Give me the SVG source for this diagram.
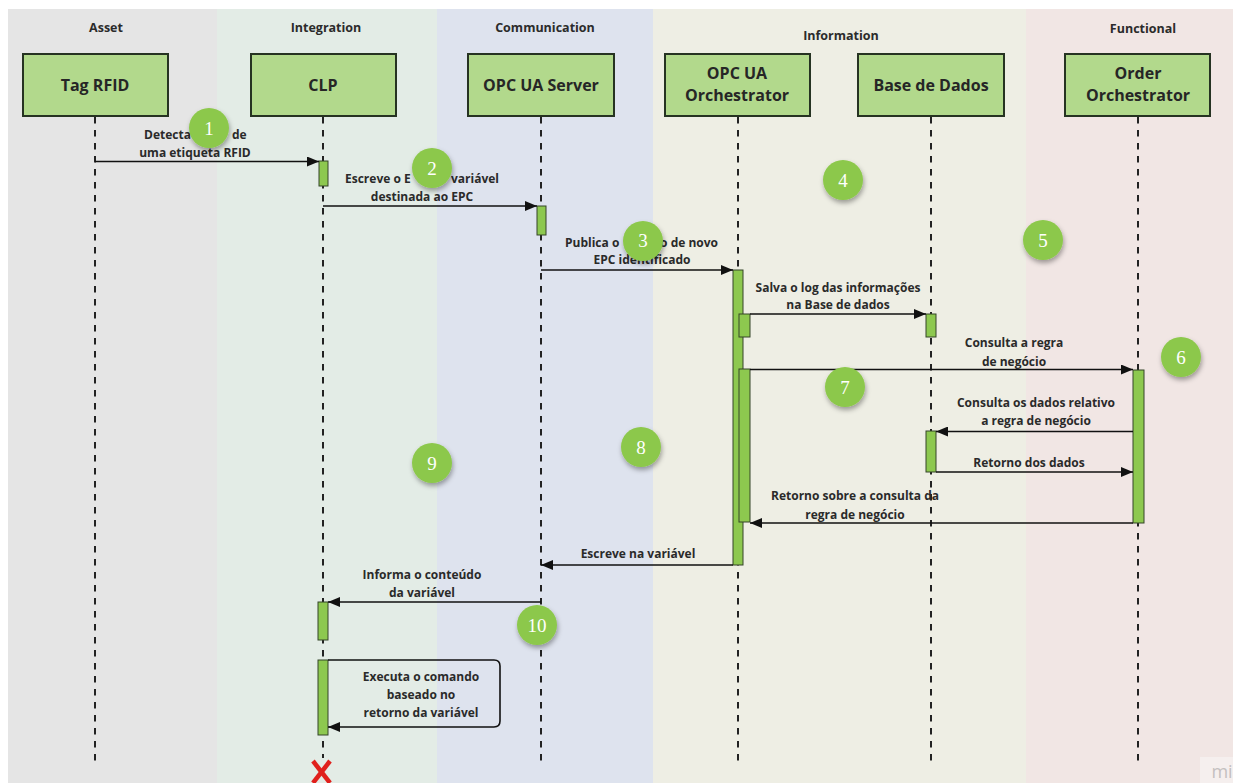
<svg xmlns="http://www.w3.org/2000/svg" width="1233" height="783" viewBox="0 0 1233 783">
  <style>
    .lane-title { font-family: "Open Sans", "Liberation Sans", sans-serif; font-weight: 700; font-size: 12.5px; fill: #2b2b2b; text-anchor: middle; }
    .actor rect { fill: #b2d98c; stroke: #263322; stroke-width: 2; }
    .actor text { font-family: "Open Sans", "Liberation Sans", sans-serif; font-weight: 700; font-size: 16px; fill: #262626; text-anchor: middle; }
    .lifeline { stroke: #222; stroke-width: 2; stroke-dasharray: 6.5 6.5; fill: none; }
    .act { fill: #8dc84f; stroke: #344428; stroke-width: 1; }
    .msg { stroke: #111; stroke-width: 1.6; fill: none; marker-end: url(#arrow); }
    .label { font-family: "Open Sans", "Liberation Sans", sans-serif; font-weight: 700; font-size: 12px; fill: #2a2a2a; text-anchor: middle; }
    .label.s { text-anchor: start; }
    .label.e { text-anchor: end; }
    .step circle { fill: #8cc84b; filter: url(#shadow); }
    .step text { font-family: "Liberation Serif", "DejaVu Serif", serif; font-size: 19px; fill: #ffffff; text-anchor: middle; }
  </style>
  <defs>
    <marker id="arrow" viewBox="0 0 12 10" refX="12" refY="5" markerWidth="12" markerHeight="10" markerUnits="userSpaceOnUse" orient="auto">
      <path d="M0,0 L12,5 L0,10 z" fill="#111"/>
    </marker>
    <filter id="shadow" x="-50%" y="-50%" width="200%" height="200%">
      <feDropShadow dx="1" dy="3" stdDeviation="2.5" flood-color="#000" flood-opacity="0.35"/>
    </filter>
  </defs>

  <!-- swimlanes -->
  <rect x="0" y="0" width="1233" height="783" fill="#ffffff"/>
  <g id="lanes">
    <rect x="8" y="9" width="209" height="774" fill="#e5e5e5"/>
    <rect x="217" y="9" width="220" height="774" fill="#e3ece6"/>
    <rect x="437" y="9" width="216" height="774" fill="#dee3ee"/>
    <rect x="653" y="9" width="373" height="774" fill="#eeeee4"/>
    <rect x="1026" y="9" width="207" height="774" fill="#f1e6e4"/>
    <text class="lane-title" x="106" y="32">Asset</text>
    <text class="lane-title" x="326" y="32">Integration</text>
    <text class="lane-title" x="545" y="32">Communication</text>
    <text class="lane-title" x="841" y="40">Information</text>
    <text class="lane-title" x="1143" y="33">Functional</text>
  </g>

  <!-- participants -->
  <g id="tag-rfid" class="actor">
    <rect x="23" y="54" width="145" height="62"/>
    <text x="95" y="91">Tag RFID</text>
    <line class="lifeline" x1="95" y1="117" x2="95" y2="765"/>
  </g>
  <g id="clp" class="actor">
    <rect x="251" y="54" width="145" height="62"/>
    <text x="323" y="91">CLP</text>
    <line class="lifeline" x1="323" y1="117" x2="323" y2="758"/>
  </g>
  <g id="opc-ua-server" class="actor">
    <rect x="468" y="54" width="146" height="62"/>
    <text x="541" y="91">OPC UA Server</text>
    <line class="lifeline" x1="541" y1="117" x2="541" y2="765"/>
  </g>
  <g id="opc-ua-orchestrator" class="actor">
    <rect x="665" y="54" width="145" height="62"/>
    <text x="737" y="79">OPC UA</text>
    <text x="737" y="101">Orchestrator</text>
    <line class="lifeline" x1="738" y1="117" x2="738" y2="765"/>
  </g>
  <g id="base-de-dados" class="actor">
    <rect x="858" y="54" width="146" height="62"/>
    <text x="931" y="91">Base de Dados</text>
    <line class="lifeline" x1="931" y1="117" x2="931" y2="765"/>
  </g>
  <g id="order-orchestrator" class="actor">
    <rect x="1065" y="54" width="145" height="62"/>
    <text x="1138" y="79">Order</text>
    <text x="1138" y="101">Orchestrator</text>
    <line class="lifeline" x1="1138" y1="117" x2="1138" y2="765"/>
  </g>

  <!-- activation bars -->
  <g id="activations">
    <rect class="act" x="319" y="161" width="9" height="25"/>
    <rect class="act" x="537" y="206" width="9" height="29"/>
    <rect class="act" x="733" y="270" width="10" height="295"/>
    <rect class="act" x="739" y="314" width="11" height="23"/>
    <rect class="act" x="926" y="314" width="10" height="23"/>
    <rect class="act" x="739" y="369" width="11" height="153"/>
    <rect class="act" x="1133" y="370" width="11" height="153"/>
    <rect class="act" x="926" y="431" width="10" height="41"/>
    <rect class="act" x="318" y="602" width="10" height="38"/>
    <rect class="act" x="318" y="660" width="10" height="75"/>
  </g>

  <!-- messages -->
  <g id="connectors">
    <line class="msg" x1="95" y1="161.5" x2="319" y2="161.5"/>
    <line class="msg" x1="323" y1="206" x2="537" y2="206"/>
    <line class="msg" x1="541" y1="270" x2="733" y2="270"/>
    <line class="msg" x1="750" y1="314" x2="926" y2="314"/>
    <line class="msg" x1="750" y1="369.5" x2="1133" y2="369.5"/>
    <line class="msg" x1="1133" y1="431.5" x2="936" y2="431.5"/>
    <line class="msg" x1="936" y1="472" x2="1133" y2="472"/>
    <line class="msg" x1="1133" y1="523" x2="750" y2="523"/>
    <line class="msg" x1="733" y1="565" x2="541" y2="565"/>
    <line class="msg" x1="541" y1="602" x2="328" y2="602"/>
    <path class="msg" d="M328,660 H494 Q500,660 500,666 V721 Q500,727 494,727 H328"/>
    <!-- destruction mark -->
    <g stroke="#e0201c" stroke-width="4.5" stroke-linecap="butt">
      <line x1="313" y1="761" x2="330" y2="783"/>
      <line x1="330" y1="761" x2="313" y2="783"/>
    </g>
  </g>

  <!-- message labels (split where a step marker sits over the line) -->
  <g id="labels">
    <text class="label s" x="144" y="138.5">Detecta</text>
    <text class="label s" x="232" y="138.5">de</text>
    <text class="label" x="195" y="157">uma etiqueta RFID</text>
    <text class="label s" x="345" y="183">Escreve o E</text>
    <text class="label s" x="451" y="183">variável</text>
    <text class="label" x="422" y="201">destinada ao EPC</text>
    <text class="label s" x="565" y="246.5">Publica o</text>
    <text class="label e" x="718" y="246.5">o de novo</text>
    <text class="label" x="642" y="264">EPC identificado</text>
    <text class="label" x="838" y="292">Salva o log das informações</text>
    <text class="label" x="838" y="309">na Base de dados</text>
    <text class="label" x="1014" y="347">Consulta a regra</text>
    <text class="label" x="1014" y="366">de negócio</text>
    <text class="label" x="1036" y="407">Consulta os dados relativo</text>
    <text class="label" x="1036" y="425">a regra de negócio</text>
    <text class="label" x="1029" y="467">Retorno dos dados</text>
    <text class="label" x="855" y="500">Retorno sobre a consulta da</text>
    <text class="label" x="855" y="518.5">regra de negócio</text>
    <text class="label" x="638" y="558">Escreve na variável</text>
    <text class="label" x="422" y="579">Informa o conteúdo</text>
    <text class="label" x="422" y="597">da variável</text>
    <text class="label" x="421" y="681">Executa o comando</text>
    <text class="label" x="421" y="699">baseado no</text>
    <text class="label" x="421" y="717">retorno da variável</text>
  </g>

  <!-- numbered step markers -->
  <g id="step-1" class="step"><circle cx="209" cy="128" r="20"/><text x="209" y="134.5">1</text></g>
  <g id="step-2" class="step"><circle cx="432" cy="168" r="20"/><text x="432" y="174.5">2</text></g>
  <g id="step-3" class="step"><circle cx="643" cy="241" r="20"/><text x="643" y="247">3</text></g>
  <g id="step-4" class="step"><circle cx="843" cy="180" r="20"/><text x="843" y="186.5">4</text></g>
  <g id="step-5" class="step"><circle cx="1043" cy="240" r="20"/><text x="1043" y="246.5">5</text></g>
  <g id="step-6" class="step"><circle cx="1181" cy="357" r="20"/><text x="1181" y="363.5">6</text></g>
  <g id="step-7" class="step"><circle cx="845" cy="387" r="20"/><text x="845" y="393.5">7</text></g>
  <g id="step-8" class="step"><circle cx="641" cy="447" r="20"/><text x="641" y="453.5">8</text></g>
  <g id="step-9" class="step"><circle cx="432" cy="463" r="20"/><text x="432" y="469.5">9</text></g>
  <g id="step-10" class="step"><circle cx="537" cy="625" r="20"/><text x="537" y="631.5">10</text></g>

  <!-- corner mark -->
  <rect x="1200" y="757" width="33" height="26" fill="#f5efee"/>
  <text x="1222" y="778" font-family="'Open Sans', 'Liberation Sans', sans-serif" font-size="18" fill="#c4c0c0" text-anchor="middle">mi</text>
</svg>
